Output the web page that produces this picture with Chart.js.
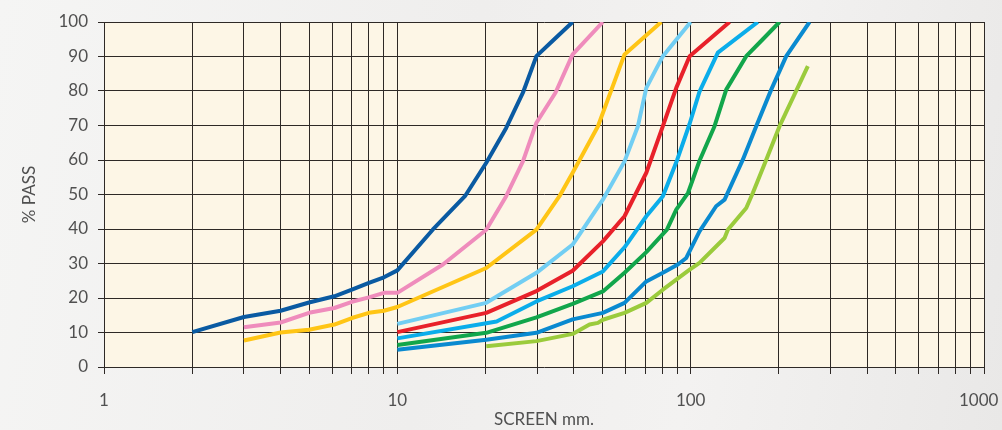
<!DOCTYPE html>
<html>
<head>
<meta charset="utf-8">
<script src="https://cdn.jsdelivr.net/npm/chart.js@4/dist/chart.umd.min.js"></script>
<style>
  html, body { margin: 0; padding: 0; }
  body {
    width: 1002px; height: 430px; overflow: hidden;
    background: linear-gradient(100deg, #f5f5f4 0%, #efeeed 45%, #f3f2f1 70%, #e9e8e7 100%);
  }
  #wrap { position: relative; width: 1002px; height: 430px; }
  canvas { display: block; }
</style>
</head>
<body>
<div id="wrap"><canvas id="grading" width="1002" height="430"></canvas></div>
<script>
'use strict';

// ─── Data (screen size mm → % passing) ───────────────────────────────────────
const X_LABELS = [1, 10, 100, 1000];
const X_GRID   = [1, 2, 3, 4, 5, 6, 7, 8, 9, 10, 20, 30, 40, 50, 60, 70, 80, 90,
                  100, 200, 300, 400, 500, 600, 700, 800, 900, 1000];
const Y_TICKS  = [0, 10, 20, 30, 40, 50, 60, 70, 80, 90, 100];

const DARK_BLUE  = [[2, 10.1], [3, 14.5], [4, 16.3], [5, 18.7], [6.1, 20.5], [7, 22.4], [8, 24.4],
                    [9, 26], [10, 28], [13.2, 39.8], [17, 49.5], [20.1, 59.2], [23.5, 69.3],
                    [26.8, 79.5], [29.8, 90.1], [33.3, 94], [39.6, 100]];
const PINK       = [[3, 11.5], [4, 12.9], [5, 15.7], [6.1, 17.1], [7, 18.9], [8, 20.2], [9, 21.5],
                    [10, 21.5], [14.3, 29.7], [20.1, 39.8], [23.5, 49.5], [26.8, 59.6],
                    [29.8, 70.8], [34.6, 79.5], [39.6, 90.6], [50.2, 100]];
const YELLOW     = [[3, 7.7], [4, 10], [5, 10.8], [6.1, 12.3], [7, 14.2], [8, 15.7], [9, 16.3],
                    [10, 17.4], [20.1, 28.7], [29.8, 39.8], [35.7, 49.5], [39.6, 56.3],
                    [48.3, 69.8], [59.5, 90.6], [79.4, 100]];
const LIGHT_BLUE = [[10, 12.5], [20.1, 18.6], [29.8, 27.3], [39.6, 35.5], [50.2, 48.5],
                    [59.5, 59.6], [66.1, 69.8], [70.6, 80.9], [80.4, 90.1], [100, 100]];
const RED        = [[10, 10.1], [20.1, 15.7], [29.8, 22], [39.6, 27.9], [50.2, 36.4], [59.5, 43.7],
                    [70.6, 56.3], [80.4, 69.8], [89.3, 80.9], [99.2, 90.1], [135.7, 100]];
const CYAN       = [[10, 8.3], [21.8, 13.2], [29.8, 19], [39.6, 23.4], [50.2, 27.7], [59.5, 34.7],
                    [70.6, 43.7], [80.4, 49.5], [90, 60.1], [99.2, 70.5], [107.2, 79.8],
                    [123.8, 91.1], [169.4, 100]];
const GREEN      = [[10, 6.4], [20.1, 9.9], [29.8, 14.4], [39.6, 18.3], [50.2, 21.9], [59.5, 27.3],
                    [70.6, 33.3], [83, 39.8], [89.3, 45.6], [98, 50.5], [107.2, 59.8],
                    [120.6, 69.8], [132.2, 80.4], [154.7, 90.1], [176.2, 95], [200.9, 100]];
const MID_BLUE   = [[10, 5], [20.1, 7.9], [29.8, 9.9], [39.6, 13.8], [50.2, 15.7], [59.5, 18.6],
                    [70.6, 24.8], [80.4, 27.3], [90.4, 29.7], [96.6, 31.6], [107.2, 39.3],
                    [122.1, 46.6], [130.5, 48.5], [150.6, 60.1], [167.3, 69.8], [188.2, 80.4],
                    [211.8, 90.1], [254.2, 100]];
const LIME       = [[20.1, 6], [29.8, 7.5], [39.6, 9.6], [45.2, 12.3], [48.3, 12.8], [50.2, 13.7],
                    [59.5, 15.7], [70.6, 18.6], [80.4, 22.4], [99.2, 28.2], [107.2, 30.2],
                    [130.5, 37.4], [133.9, 39.8], [154.7, 46.1], [163, 50.5], [181, 60.1],
                    [200.9, 69.8], [250.9, 87.2]];

const SERIES = [DARK_BLUE, PINK, YELLOW, LIGHT_BLUE, RED, CYAN, GREEN, MID_BLUE, LIME];

// ─── Styles ───────────────────────────────────────────────────────────────────
const COLORS = ['#0a5aa2', '#ef8cbc', '#ffc515', '#72cef3', '#e8212a',
                '#0badea', '#12a64b', '#0a8ad0', '#9bcb3c'];
const PLOT_BG   = '#fdf6e6';
const GRID_CLR  = '#2e2926';
const TEXT_CLR  = '#505050';
const FONT      = 'Lato, "Open Sans", sans-serif';

// fill the plot area with the cream colour
const plotBackground = {
  id: 'plotBackground',
  beforeDraw(chart) {
    const { ctx, chartArea: a } = chart;
    ctx.save();
    ctx.fillStyle = PLOT_BG;
    ctx.fillRect(a.left, a.top, a.right - a.left, a.bottom - a.top);
    ctx.restore();
  },
};

// the last label sits a little inside the right edge, as in the print
function xLabel(v) {
  if (!X_LABELS.includes(v)) return '';
  return v === X_LABELS[X_LABELS.length - 1] ? v + '\u2002\u2009' : String(v);
}

new Chart(document.getElementById('grading'), {
  type: 'line',
  data: {
    datasets: SERIES.map((pts, i) => ({
      data:            pts.map(([x, y]) => ({ x, y })),
      borderColor:     COLORS[i],
      borderWidth:     4,
      pointRadius:     0,
      tension:         0,
      fill:            false,
      borderJoinStyle: 'round',
    })),
  },
  options: {
    responsive:       false,
    animation:        false,
    devicePixelRatio: 1,
    layout: { padding: { top: 22, right: 18, bottom: 0, left: 0 } },
    plugins: {
      legend:  { display: false },
      tooltip: { enabled: false },
    },
    scales: {
      x: {
        type: 'logarithmic',
        min:  1,
        max:  1000,
        afterBuildTicks: (s) => { s.ticks = X_GRID.map((v) => ({ value: v })); },
        afterFit: (s) => { s.height = 63; s.paddingLeft = 0; s.paddingRight = 0; },
        grid:   { color: GRID_CLR, lineWidth: 1, tickLength: 7 },
        border: { display: false },
        ticks: {
          autoSkip:    false,
          maxRotation: 0,
          padding:     16,
          color:       TEXT_CLR,
          font:        { family: FONT, size: 17 },
          callback:    xLabel,
        },
        title: {
          display: true,
          text:    'SCREEN mm.',
          color:   TEXT_CLR,
          font:    { family: FONT, size: 17 },
          padding: { top: 0, bottom: 0 },
        },
      },
      y: {
        min: 0,
        max: 100,
        afterBuildTicks: (s) => { s.ticks = Y_TICKS.map((v) => ({ value: v })); },
        afterFit: (s) => { s.width = 104; },
        grid:   { color: GRID_CLR, lineWidth: 1, tickLength: 6 },
        border: { color: GRID_CLR, width: 1 },
        ticks: {
          autoSkip: false,
          padding:  10,
          color:    TEXT_CLR,
          font:     { family: FONT, size: 17 },
        },
        title: {
          display: true,
          text:    '% PASS',
          color:   TEXT_CLR,
          font:    { family: FONT, size: 17 },
          padding: { top: 19, bottom: 0 },
        },
      },
    },
  },
  plugins: [plotBackground],
});
</script>
</body>
</html>
